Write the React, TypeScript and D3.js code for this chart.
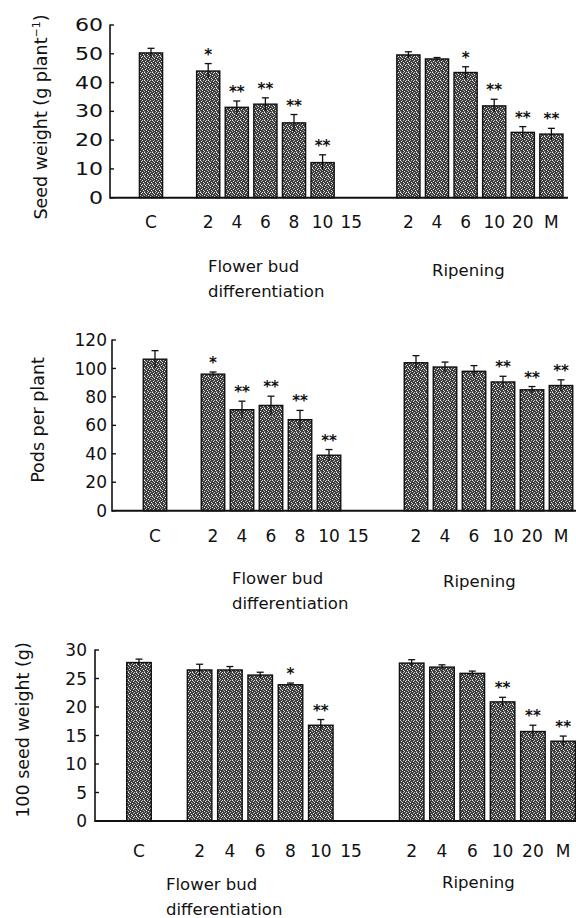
import React from "react";
import * as d3 from "d3";

// Slots along the x axis (gaps separate the control, flower-bud and ripening groups)
const slotKeys = ["C", "g1", "F2", "F4", "F6", "F8", "F10", "F15", "g2", "R2", "R4", "R6", "R10", "R20", "RM"];
const slotLabels = ["C", "", "2", "4", "6", "8", "10", "15", "", "2", "4", "6", "10", "20", "M"];

// Panel 1: seed weight (g plant-1)
const seedWeight = [50.3, null, 44.0, 31.4, 32.5, 26.0, 12.2, null, null, 49.6, 48.2, 43.5, 31.9, 22.7, 22.1];
const seedWeightErr = [1.6, null, 2.6, 2.2, 2.2, 2.9, 2.7, null, null, 1.1, 0.5, 2.0, 2.3, 2.0, 2.0];
const seedWeightSig = ["", "", "*", "**", "**", "**", "**", "", "", "", "", "*", "**", "**", "**"];

// Panel 2: pods per plant
const pods = [106.5, null, 96.0, 71.0, 74.0, 64.0, 39.0, null, null, 104.0, 101.0, 98.0, 90.5, 85.0, 88.0];
const podsErr = [6.0, null, 1.5, 6.0, 6.5, 6.5, 4.0, null, null, 5.0, 3.5, 4.0, 4.0, 2.3, 4.0];
const podsSig = ["", "", "*", "**", "**", "**", "**", "", "", "", "", "", "**", "**", "**"];

// Panel 3: 100 seed weight (g)
const hundredSeed = [27.8, null, 26.5, 26.5, 25.6, 23.9, 16.8, null, null, 27.7, 27.0, 25.9, 20.9, 15.7, 14.0];
const hundredSeedErr = [0.6, null, 1.0, 0.6, 0.5, 0.3, 1.0, null, null, 0.6, 0.4, 0.4, 0.8, 1.1, 0.9];
const hundredSeedSig = ["", "", "", "", "", "*", "**", "", "", "", "", "", "**", "**", "**"];

const FONT = "'DejaVu Sans', Verdana, sans-serif";

// speckle texture cells for the bar fill (pattern styling)
const speckles: [number, number, string][] = [
  [0, 0, "#f2f2f2"], [3, 0, "#bdbdbd"], [6, 0, "#e8e8e8"],
  [1, 1, "#d0d0d0"], [5, 1, "#f5f5f5"],
  [2, 2, "#ececec"], [7, 2, "#a8a8a8"],
  [0, 3, "#b8b8b8"], [4, 3, "#f0f0f0"],
  [2, 4, "#9c9c9c"], [6, 4, "#e4e4e4"],
  [1, 5, "#f7f7f7"], [5, 5, "#b0b0b0"],
  [3, 6, "#e0e0e0"], [7, 6, "#f0f0f0"],
  [0, 7, "#a0a0a0"], [4, 7, "#d8d8d8"],
];

type PanelProps = {
  values: (number | null)[];
  errors: (number | null)[];
  sig: string[];
  yMax: number;
  yStep: number;
  y0: number;
  yTop: number;
  axisX: number;
  bandRange: [number, number];
  axisEnd: number;
  catY: number;
  yLabel: React.ReactNode;
  yLabelPos: [number, number];
  tickRight: number;
  tickScaleX: number;
  flowerX: number;
  flowerY: number;
  ripX: number;
  ripY: number;
};

function Panel(p: PanelProps) {
  const x = d3
    .scaleBand<string>()
    .domain(slotKeys)
    .range(p.bandRange)
    .paddingInner(0.19)
    .paddingOuter(0.095);
  const y = d3.scaleLinear().domain([0, p.yMax]).range([p.y0, p.yTop]);
  const ticks = d3.range(0, p.yMax + p.yStep / 2, p.yStep);
  const bw = x.bandwidth();
  return (
    <g>
      {/* bars */}
      {slotKeys.map((k, i) => {
        const v = p.values[i];
        if (v == null) return null;
        const e = p.errors[i] ?? 0;
        const cx = (x(k) ?? 0) + bw / 2;
        const top = y(v);
        const et = y(v + e);
        return (
          <g key={k}>
            <rect x={x(k)} y={top} width={bw} height={p.y0 - top} fill="url(#stipple)" stroke="#111" strokeWidth={1.4} />
            <line x1={cx} x2={cx} y1={y(v - e)} y2={et} stroke="#111" strokeWidth={1.3} />
            <line x1={cx - 3.5} x2={cx + 3.5} y1={et} y2={et} stroke="#111" strokeWidth={1.3} />
            {p.sig[i] ? (
              <text x={cx} y={et - 4} textAnchor="middle" fontSize={15} fontWeight="bold" fill="#111">
                {p.sig[i]}
              </text>
            ) : null}
          </g>
        );
      })}
      {/* y axis */}
      <line x1={p.axisX} x2={p.axisX} y1={p.yTop - 0.5} y2={p.y0 + 1} stroke="#111" strokeWidth={1.6} />
      {ticks.map((t) => (
        <g key={t}>
          <line x1={p.axisX} x2={p.axisX + 4} y1={y(t)} y2={y(t)} stroke="#111" strokeWidth={1.4} />
          <text
            transform={`translate(${p.tickRight},${y(t)}) scale(${p.tickScaleX},1)`}
            textAnchor="end"
            dy="0.36em"
            fontSize={17}
            fill="#111"
          >
            {t}
          </text>
        </g>
      ))}
      {/* x axis */}
      <line x1={p.axisX} x2={p.axisEnd} y1={p.y0} y2={p.y0} stroke="#111" strokeWidth={2} />
      {slotKeys.map((k, i) =>
        slotLabels[i] ? (
          <text key={k} x={(x(k) ?? 0) + bw / 2} y={p.catY} textAnchor="middle" fontSize={17} fill="#111">
            {slotLabels[i]}
          </text>
        ) : null
      )}
      {/* y label */}
      <text
        transform={`translate(${p.yLabelPos[0]},${p.yLabelPos[1]}) rotate(-90)`}
        textAnchor="middle"
        fontSize={17.5}
        fill="#111"
      >
        {p.yLabel}
      </text>
      {/* group labels */}
      <text x={p.flowerX} y={p.flowerY} fontSize={16.5} fill="#111">
        Flower bud
      </text>
      <text x={p.flowerX} y={p.flowerY + 24.5} fontSize={16.5} fill="#111">
        differentiation
      </text>
      <text x={p.ripX} y={p.ripY} fontSize={16.5} fill="#111">
        Ripening
      </text>
    </g>
  );
}

export default function App() {
  return (
    <svg
      width={576}
      height={918}
      viewBox="0 0 576 918"
      style={{ position: "absolute", left: 0, top: 0, background: "#fff" }}
      fontFamily={FONT}
    >
      <defs>
        <pattern id="stipple" width={8} height={8} patternUnits="userSpaceOnUse">
          <rect width={8} height={8} fill="#3c3c3c" />
          {speckles.map(([sx, sy, c], i) => (
            <rect key={i} x={sx} y={sy} width={1} height={1} fill={c} />
          ))}
        </pattern>
      </defs>
      <rect width={576} height={918} fill="#fff" />
      <Panel
        values={seedWeight}
        errors={seedWeightErr}
        sig={seedWeightSig}
        yMax={60}
        yStep={10}
        y0={197.7}
        yTop={25}
        axisX={110}
        bandRange={[136.7, 565.7]}
        axisEnd={568}
        catY={228}
        yLabel={
          <>
            Seed weight (g plant
            <tspan fontSize={11} dy={-7}>
              −1
            </tspan>
            <tspan dy={7}>)</tspan>
          </>
        }
        yLabelPos={[47, 117]}
        tickRight={103}
        tickScaleX={1.3}
        flowerX={208}
        flowerY={272}
        ripX={432}
        ripY={276}
      />
      <Panel
        values={pods}
        errors={podsErr}
        sig={podsSig}
        yMax={120}
        yStep={20}
        y0={510.7}
        yTop={340}
        axisX={112}
        bandRange={[140.5, 575.5]}
        axisEnd={576}
        catY={542}
        yLabel="Pods per plant"
        yLabelPos={[44, 420]}
        tickRight={107}
        tickScaleX={1}
        flowerX={232}
        flowerY={584}
        ripX={443}
        ripY={587}
      />
      <Panel
        values={hundredSeed}
        errors={hundredSeedErr}
        sig={hundredSeedSig}
        yMax={30}
        yStep={5}
        y0={821}
        yTop={650}
        axisX={95}
        bandRange={[123.85, 578.35]}
        axisEnd={576}
        catY={857}
        yLabel="100 seed weight (g)"
        yLabelPos={[29, 730]}
        tickRight={87}
        tickScaleX={1}
        flowerX={166}
        flowerY={890}
        ripX={442}
        ripY={888}
      />
    </svg>
  );
}
